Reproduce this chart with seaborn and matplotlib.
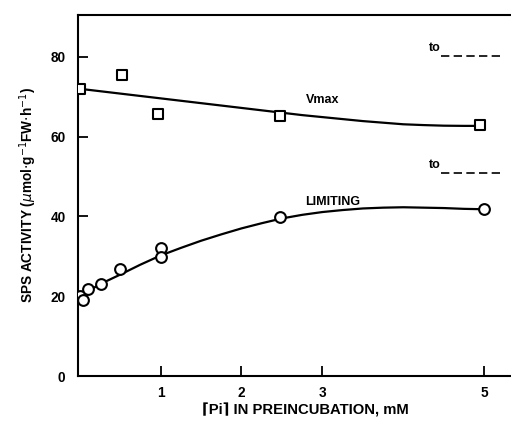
import matplotlib
matplotlib.use("Agg")
import matplotlib.pyplot as plt
import seaborn as sns

# Data
vmax_x = [0.0, 0.52, 0.97, 2.48, 4.95]
vmax_y = [72.0, 75.5, 65.6, 65.2, 62.8]

lim_x = [0.0, 0.04, 0.10, 0.26, 0.50, 1.0, 1.0, 2.48, 5.0]
lim_y = [20.0, 19.0, 21.7, 23.0, 26.9, 32.2, 29.8, 39.8, 41.8]

# Fitted curves as drawn in the figure
vmax_curve_x = [0.0, 0.25, 0.5, 0.75, 1.0, 1.25, 1.5, 1.75, 2.0, 2.25, 2.5,
                2.75, 3.0, 3.25, 3.5, 3.75, 4.0, 4.25, 4.5, 4.75, 5.0]
vmax_curve_y = [72.0, 71.4, 70.8, 70.2, 69.6, 69.0, 68.4, 67.8, 67.2, 66.6, 66.0,
                65.4, 64.9, 64.4, 63.9, 63.5, 63.1, 62.9, 62.75, 62.7, 62.7]

lim_curve_x = [0.0, 0.25, 0.5, 0.75, 1.0, 1.25, 1.5, 1.75, 2.0, 2.25, 2.5,
               2.75, 3.0, 3.25, 3.5, 3.75, 4.0, 4.25, 4.5, 4.75, 5.0]
lim_curve_y = [20.0, 23.0, 25.4, 27.9, 30.2, 32.1, 33.9, 35.5, 37.0, 38.3, 39.5,
               40.4, 41.1, 41.6, 42.0, 42.2, 42.3, 42.2, 42.1, 41.9, 41.8]

x_ticks = [1, 2, 3, 5]
y_ticks = [0, 20, 40, 60, 80]

sns.set_style("ticks")
plt.rcParams['font.family'] = ['Liberation Sans', 'DejaVu Sans']
plt.rcParams['text.color'] = 'black'
plt.rcParams['axes.labelcolor'] = 'black'

fig = plt.figure(figsize=(5.11, 4.22), dpi=100)
ax = fig.add_axes([0.1526, 0.109, 0.8474, 0.8555])

sns.lineplot(x=vmax_curve_x, y=vmax_curve_y, ax=ax, color='black', linewidth=1.6)
sns.lineplot(x=lim_curve_x, y=lim_curve_y, ax=ax, color='black', linewidth=1.6)
sns.scatterplot(x=vmax_x, y=vmax_y, ax=ax, marker='s', s=60, facecolor='white',
                edgecolor='black', linewidth=1.5, zorder=5)
sns.scatterplot(x=lim_x, y=lim_y, ax=ax, marker='o', s=60, facecolor='white',
                edgecolor='black', linewidth=1.5, zorder=5)

ax.set_xlim(-0.02, 5.33)
ax.set_ylim(0, 90.5)
ax.set_xticks(x_ticks)
ax.set_xticklabels([str(t) for t in x_ticks])
ax.set_yticks(y_ticks)
ax.set_yticklabels([str(t) for t in y_ticks])

for side in ['left', 'bottom', 'top']:
    ax.spines[side].set_linewidth(1.5)
    ax.spines[side].set_color('black')
ax.spines['right'].set_visible(False)

ax.tick_params(axis='both', direction='in', length=7, width=1.3, labelsize=9.8,
               colors='black')
ax.tick_params(axis='y', pad=9)
ax.tick_params(axis='x', pad=7)
for lab in ax.get_xticklabels() + ax.get_yticklabels():
    lab.set_fontweight('bold')

ax.set_ylabel("SPS ACTIVITY ($\\mu$mol$\\cdot$g$^{-1}$FW$\\cdot$h$^{-1}$)",
              fontsize=9.8, fontweight='bold', labelpad=8)
ax.set_xlabel("⌈Pi⌉ IN PREINCUBATION, mM", fontsize=10.7, fontweight='bold')
ax.xaxis.set_label_coords(0.524, -0.077, transform=ax.transAxes)
ax.xaxis.label.set_va('top')

ax.text(2.79, 69.2, "Vmax", fontsize=9, fontweight='bold', ha='left', va='center')
ax.text(2.79, 43.6, "LIMITING", fontsize=9, fontweight='bold', ha='left', va='center')

for yv in [80.2, 51.0]:
    ax.text(4.31, yv + 0.5, "to", fontsize=9, fontweight='bold', ha='left', va='bottom')
    ax.plot([4.47, 5.2], [yv, yv], color='black', linestyle=(0, (5, 2.6)), linewidth=1.2)

fig.savefig("out.png", dpi=100)
